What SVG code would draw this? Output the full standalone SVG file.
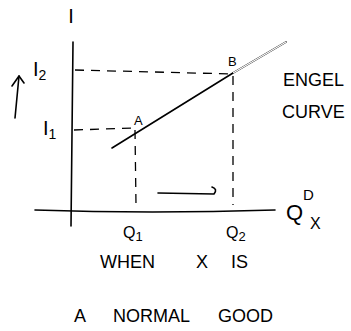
<svg xmlns="http://www.w3.org/2000/svg" width="351" height="331" viewBox="0 0 351 331">
<style>
.ln{fill:none;stroke:#000;stroke-width:1.6;stroke-linecap:round;stroke-linejoin:round}
.ds{fill:none;stroke:#000;stroke-width:1.3;stroke-dasharray:9 7}
.t{font-family:"Liberation Sans",Arial,sans-serif;fill:#000;font-weight:normal}
</style>
<rect width="351" height="331" fill="#fff"/>
<g id="connectors">
<path class="ln" d="M73,42 L71,226"/>
<path class="ln" d="M35,210 Q150,214 275,210"/>
<path class="ds" d="M75,70 L233,74"/>
<path class="ds" d="M74,130 L135,128"/>
<path class="ds" d="M135,130 L136,205"/>
<path class="ds" d="M233,76 L233,205"/>
<path class="ln" d="M15,118 L19,76"/>
<path class="ln" d="M12,86 L19,76 L24,83"/>
<path class="ln" d="M158,193 L214,194 Q218,189 212,187"/>
</g>
<g id="engel">
<path class="ln" d="M112,148 L233,73" stroke-width="2"/>
<path class="ln" d="M233,73 L286,42" stroke-width="3.4"/>
<path d="M233,73 L286,42" stroke="#fff" stroke-width="1.2" fill="none"/>
</g>
<g id="labels">
<text class="t" x="71" y="23" font-size="20" text-anchor="middle">I</text>
<text class="t" x="33" y="76" font-size="20">I<tspan font-size="14" dy="4">2</tspan></text>
<text class="t" x="43" y="135" font-size="20">I<tspan font-size="14" dy="4">1</tspan></text>
<text class="t" x="134" y="125" font-size="13">A</text>
<text class="t" x="228" y="66" font-size="13">B</text>
<text class="t" x="283" y="86" font-size="18">ENGEL</text>
<text class="t" x="282" y="118" font-size="18">CURVE</text>
<text class="t" x="123" y="238" font-size="16">Q<tspan font-size="13" dy="3">1</tspan></text>
<text class="t" x="226" y="238" font-size="16">Q<tspan font-size="13" dy="3">2</tspan></text>
<text class="t" x="286" y="220" font-size="22">Q</text>
<text class="t" x="303" y="200" font-size="15">D</text>
<text class="t" x="310" y="229" font-size="16">X</text>
<text class="t" x="100" y="268" font-size="18">WHEN</text>
<text class="t" x="196" y="268" font-size="18">X</text>
<text class="t" x="231" y="268" font-size="18">IS</text>
<text class="t" x="74" y="322" font-size="18">A</text>
<text class="t" x="113" y="322" font-size="18">NORMAL</text>
<text class="t" x="218" y="322" font-size="18">GOOD</text>
</g>
</svg>
